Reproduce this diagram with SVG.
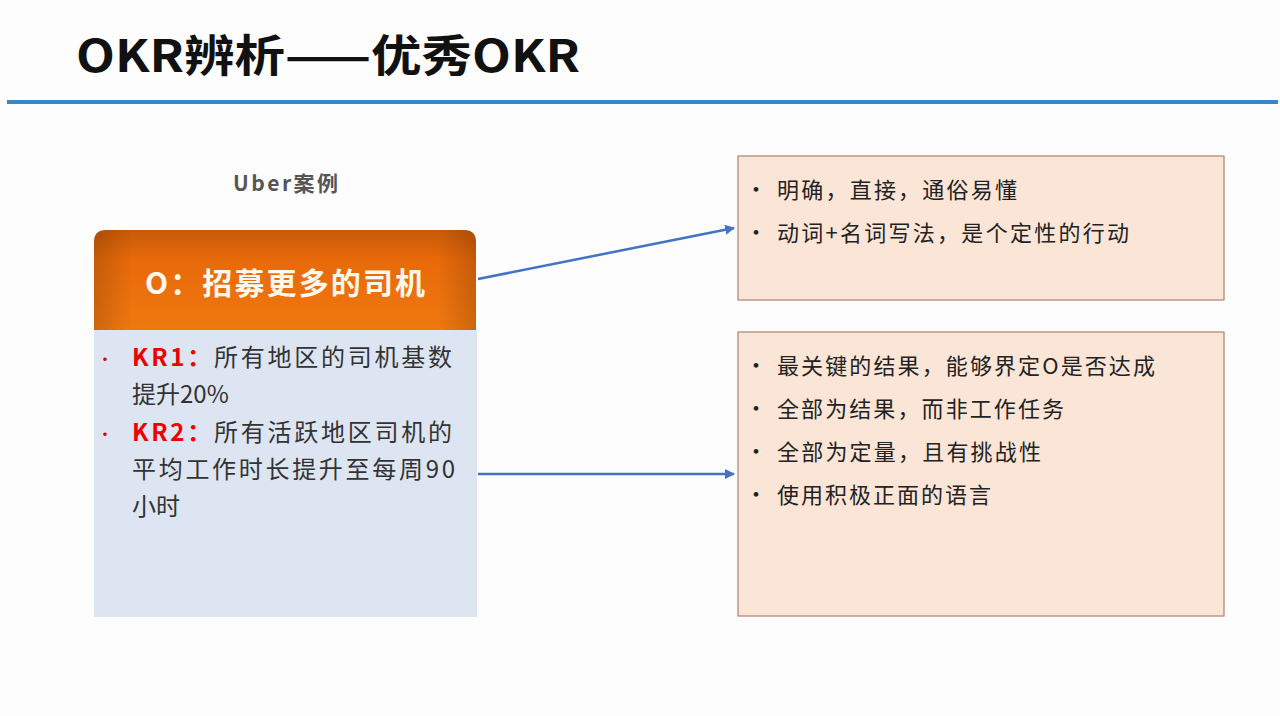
<svg xmlns="http://www.w3.org/2000/svg" width="1280" height="716" viewBox="0 0 1280 716">
<defs>
<linearGradient id="og" x1="0" y1="0" x2="0" y2="1"><stop offset="0" stop-color="#c85a08"/><stop offset="0.3" stop-color="#e86a0a"/><stop offset="1" stop-color="#f07810"/></linearGradient>
<linearGradient id="og2" x1="0" y1="0" x2="1" y2="0"><stop offset="0" stop-color="#000" stop-opacity="0.15"/><stop offset="0.1" stop-color="#000" stop-opacity="0"/><stop offset="0.9" stop-color="#000" stop-opacity="0"/><stop offset="1" stop-color="#000" stop-opacity="0.15"/></linearGradient>
<marker id="ar" markerWidth="10" markerHeight="10" refX="9" refY="5" orient="auto" markerUnits="userSpaceOnUse"><path d="M0,0 L10,5 L0,10 z" fill="#4472c4"/></marker>
<style>
text{font-family:"Noto Sans CJK SC","Liberation Sans",sans-serif}
.t{font-size:22px;fill:#222}
.b{font-size:24px;fill:#333}
.box{fill:#fbe5d6;stroke:#b08070;stroke-width:1.2}
.ln{stroke:#4472c4;stroke-width:2.5;fill:none}
</style>
</defs>
<rect width="1280" height="716" fill="#fdfdfd"/>
<text x="76" y="72" font-size="44" font-weight="bold" fill="#111" textLength="504" lengthAdjust="spacingAndGlyphs">OKR辨析——优秀OKR</text>
<rect x="7" y="100" width="1271" height="4" fill="#3a84c8"/>
<text x="233" y="191" font-size="21" font-weight="bold" fill="#555" textLength="105">Uber案例</text>
<g id="kr">
<rect x="94" y="330" width="383" height="287" fill="#dde5f2"/>
<text x="97" y="365" fill="#d00" font-size="16">•</text>
<text class="b" x="132" y="366" textLength="320"><tspan fill="#e00" font-weight="bold">KR1：</tspan>所有地区的司机基数</text>
<text class="b" x="132" y="403">提升20%</text>
<text x="97" y="440" fill="#d00" font-size="16">•</text>
<text class="b" x="132" y="441" textLength="320"><tspan fill="#e00" font-weight="bold">KR2：</tspan>所有活跃地区司机的</text>
<text class="b" x="132" y="478" textLength="323">平均工作时长提升至每周90</text>
<text class="b" x="132" y="515">小时</text>
</g>
<g id="o">
<path d="M94,330 V242 Q94,230 106,230 H464 Q476,230 476,242 V330 Z" fill="url(#og)"/>
<path d="M94,330 V242 Q94,230 106,230 H464 Q476,230 476,242 V330 Z" fill="url(#og2)"/>
<text x="145" y="294" font-size="30" font-weight="bold" fill="#fff8ee" textLength="280">O：招募更多的司机</text>
</g>
<g id="box1">
<rect class="box" x="738" y="156" width="486" height="144"/>
<text class="t" x="745" y="197" font-size="14">•</text>
<text class="t" x="777" y="198" textLength="240">明确，直接，通俗易懂</text>
<text class="t" x="745" y="240" font-size="14">•</text>
<text class="t" x="777" y="241" textLength="352">动词+名词写法，是个定性的行动</text>
</g>
<g id="box2">
<rect class="box" x="738" y="332" width="486" height="284"/>
<text class="t" x="745" y="373" font-size="14">•</text>
<text class="t" x="777" y="374" textLength="378">最关键的结果，能够界定O是否达成</text>
<text class="t" x="745" y="416" font-size="14">•</text>
<text class="t" x="777" y="417" textLength="287">全部为结果，而非工作任务</text>
<text class="t" x="745" y="459" font-size="14">•</text>
<text class="t" x="777" y="460" textLength="264">全部为定量，且有挑战性</text>
<text class="t" x="745" y="502" font-size="14">•</text>
<text class="t" x="777" y="503" textLength="214">使用积极正面的语言</text>
</g>
<g id="connectors">
<line class="ln" x1="478" y1="279" x2="734" y2="228" marker-end="url(#ar)"/>
<line class="ln" x1="478" y1="474" x2="734" y2="474" marker-end="url(#ar)"/>
</g>
</svg>
